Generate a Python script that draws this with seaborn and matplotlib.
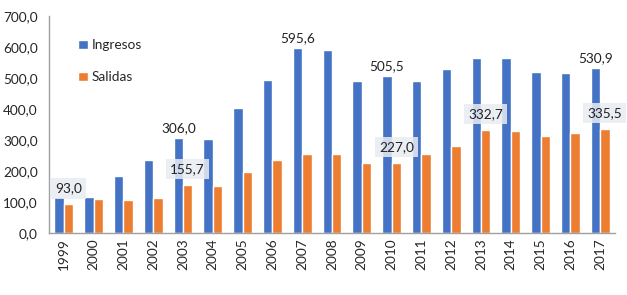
import numpy as np
import pandas as pd
import matplotlib
matplotlib.use("Agg")
import matplotlib.pyplot as plt
import seaborn as sns
from matplotlib.ticker import FuncFormatter

years = [str(y) for y in range(1999, 2018)]
ingresos = [115, 117, 184, 235, 306.0, 304, 403, 494, 595.6, 589, 490,
            505.5, 490, 529, 563, 563, 520, 516, 530.9]
salidas = [93.0, 109, 105, 113, 155.7, 152, 196, 235, 256, 256, 226,
           227.0, 256, 282, 332.7, 329, 313, 321, 335.5]
ingresos_labeled = ["2003", "2007", "2010", "2017"]
salidas_labeled = ["1999", "2003", "2010", "2013", "2017"]

df = pd.DataFrame({
    "Año": years * 2,
    "Valor": ingresos + salidas,
    "Serie": ["Ingresos"] * len(years) + ["Salidas"] * len(years),
})

sns.set_style("white")
plt.rcParams["font.family"] = ["Lato", "DejaVu Sans"]

fig = plt.figure(figsize=(6.27, 2.95), dpi=100)
ax = fig.add_axes([0.078, 0.21, 0.903, 0.736])

sns.barplot(data=df, x="Año", y="Valor", hue="Serie",
            palette=["#4472C4", "#ED7D31"], width=0.63, ax=ax,
            saturation=1, legend=True)

def fmt(v):
    return f"{v:.1f}".replace(".", ",")

fs = 9.8
lab_i = [fmt(v) if y in ingresos_labeled else "" for y, v in zip(years, ingresos)]
lab_s = [fmt(v) if y in salidas_labeled else "" for y, v in zip(years, salidas)]
ax.bar_label(ax.containers[0], labels=lab_i, padding=3, fontsize=fs, color="#222222")
ax.bar_label(ax.containers[1], labels=lab_s, padding=7, fontsize=fs, color="#222222",
             bbox=dict(boxstyle="square,pad=0.3", fc="#e8ecf2", ec="none", alpha=0.85))

ax.set_ylim(0, 700)
ax.set_yticks(np.arange(0, 701, 100))
ax.yaxis.set_major_formatter(FuncFormatter(lambda v, p: fmt(v)))
ax.set_xlabel("")
ax.set_ylabel("")
ax.tick_params(axis="x", rotation=90, labelsize=fs, length=0, pad=4)
ax.tick_params(axis="y", labelsize=fs, length=0, pad=8)
for s in ["top", "right"]:
    ax.spines[s].set_visible(False)
for s in ["left", "bottom"]:
    ax.spines[s].set_color("#a0a0a0")
    ax.spines[s].set_linewidth(1)

leg = ax.legend(loc="upper left", bbox_to_anchor=(0.03, 0.95), frameon=False,
                fontsize=fs, handlelength=0.7, handleheight=0.7,
                handletextpad=0.3, labelspacing=1.5)

fig.savefig("out.png", dpi=100)
